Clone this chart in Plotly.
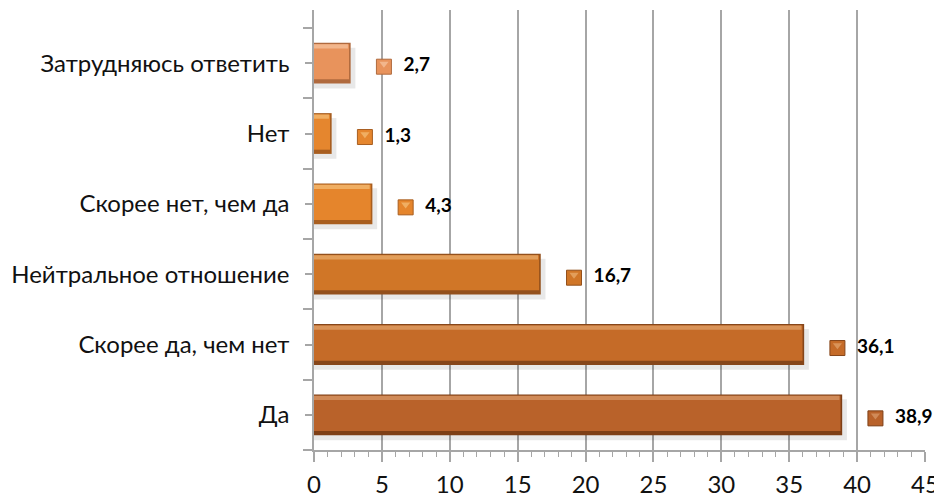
import plotly.graph_objects as go

categories = ["Да", "Скорее да, чем нет", "Нейтральное отношение", "Скорее нет, чем да", "Нет", "Затрудняюсь ответить"]
values = [38.9, 36.1, 16.7, 4.3, 1.3, 2.7]
labels = ["38,9", "36,1", "16,7", "4,3", "1,3", "2,7"]
x_ticks = [0, 5, 10, 15, 20, 25, 30, 35, 40, 45]

body_colors = ["#B9622A", "#C56B28", "#D07627", "#E5852C", "#E5862E", "#E8935C"]
dark_colors = ["#7E3F16", "#86461A", "#93501C", "#A85E1F", "#A85E20", "#B06A3E"]
light_colors = ["#D08A58", "#D99358", "#E29E5A", "#F0AE62", "#F0AE62", "#F2B68C"]

FONT = "Lato, 'Open Sans', sans-serif"
pos = list(range(len(categories)))
W = 0.58

fig = go.Figure()
# soft shadow
fig.add_trace(go.Bar(y=pos, x=[v + 0.35 for v in values], orientation="h", width=W,
                     offset=-W / 2 - 0.07, marker=dict(color="rgba(0,0,0,0.09)", line_width=0),
                     hoverinfo="skip", showlegend=False))
# dark base (bottom/right edge)
fig.add_trace(go.Bar(y=pos, x=values, orientation="h", width=W, offset=-W / 2,
                     marker=dict(color=dark_colors, line_width=0), showlegend=False))
# main body
fig.add_trace(go.Bar(y=pos, x=[v - 0.12 for v in values], orientation="h", width=W - 0.08,
                     offset=-W / 2 + 0.06, marker=dict(color=body_colors, line_width=0),
                     hoverinfo="skip", showlegend=False))
# top highlight
fig.add_trace(go.Bar(y=pos, x=[v - 0.2 for v in values], orientation="h", width=0.06,
                     offset=W / 2 - 0.08, marker=dict(color=light_colors, line_width=0),
                     hoverinfo="skip", showlegend=False))

# label markers with text
fig.add_trace(go.Scatter(x=[v + 2.45 for v in values], y=[p - 0.05 for p in pos], mode="markers+text",
                         marker=dict(symbol="square", size=15, color=body_colors,
                                     line=dict(color=dark_colors, width=1)),
                         text=["  " + t for t in labels], textposition="middle right",
                         textfont=dict(family=FONT, size=19, color="#000000", weight="bold"),
                         cliponaxis=False, showlegend=False, hoverinfo="skip"))
fig.add_trace(go.Scatter(x=[v + 2.45 for v in values], y=[p - 0.01 for p in pos], mode="markers",
                         marker=dict(symbol="triangle-down", size=8, color=light_colors, line_width=0),
                         cliponaxis=False, showlegend=False, hoverinfo="skip"))

fig.update_layout(
    width=934, height=490,
    margin=dict(l=306, r=17, t=2, b=48),
    paper_bgcolor="white", plot_bgcolor="white",
    barmode="overlay",
    font=dict(family=FONT, color="#111111"),
    xaxis=dict(range=[0, 45], tickvals=x_ticks, showgrid=True, gridcolor="#A6A6A6", gridwidth=1.5,
               zeroline=False, showline=True, linecolor="#A6A6A6", linewidth=1.5, automargin=False,
               ticks="outside", ticklen=10, tickcolor="#A6A6A6", tickwidth=1.5, ticklabelstandoff=2,
               minor=dict(dtick=1, ticks="outside", ticklen=5, tickcolor="#A6A6A6", tickwidth=1.2, showgrid=False),
               tickfont=dict(family=FONT, size=24, color="#111111")),
    yaxis=dict(range=[-0.5, 5.756], tickvals=pos, ticktext=categories, showgrid=False, automargin=False,
               zeroline=False, showline=True, linecolor="#A6A6A6", linewidth=1.5,
               ticks="outside", ticklen=7, tickcolor="#A6A6A6", tickwidth=1.5,
               minor=dict(tick0=-0.5, dtick=1, ticks="outside", ticklen=9, tickcolor="#A6A6A6", tickwidth=1.5),
               ticklabelstandoff=11,
               tickfont=dict(family=FONT, size=24, color="#111111")),
)

fig.write_html("out.html")
